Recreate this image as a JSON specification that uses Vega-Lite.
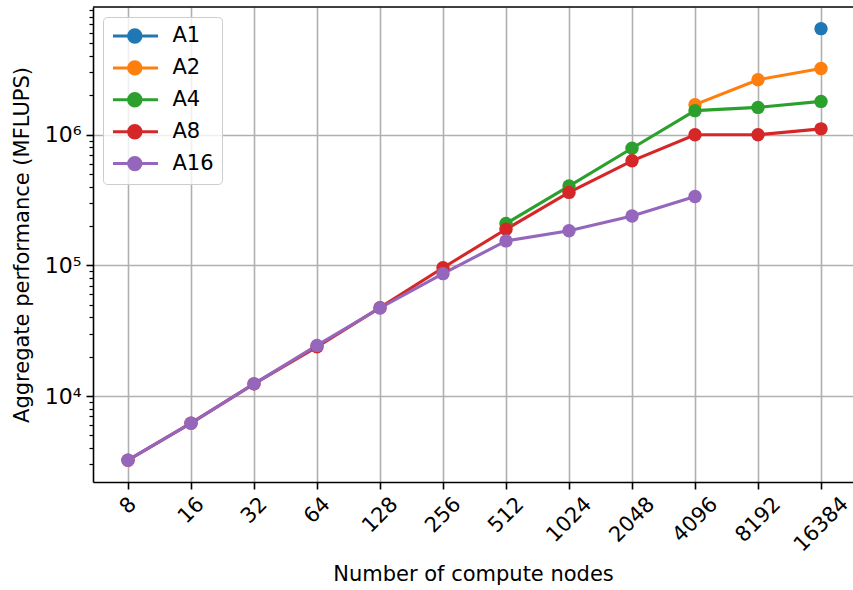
{
  "$schema": "https://vega.github.io/schema/vega-lite/v6.json",
  "autosize": "none",
  "width": 760,
  "height": 475,
  "padding": {"left": 93, "top": 7, "right": 0, "bottom": 108},
  "background": "white",
  "config": {
    "font": "DejaVu Sans",
    "view": {"stroke": null},
    "axis": {
      "labelFont": "DejaVu Sans",
      "titleFont": "DejaVu Sans",
      "labelFontSize": 21,
      "titleFontSize": 21,
      "titleFontWeight": "normal",
      "labelColor": "black",
      "titleColor": "black",
      "domainColor": "black",
      "domainWidth": 1.6,
      "tickColor": "black",
      "gridColor": "#b0b0b0",
      "gridWidth": 1.6
    },
    "legend": {
      "labelFont": "DejaVu Sans",
      "labelFontSize": 21,
      "labelColor": "black"
    }
  },
  "data": {
    "values": [
      {"nodes": 16384, "perf": 6490000, "series": "A1"},
      {"nodes": 4096, "perf": 1700000, "series": "A2"},
      {"nodes": 8192, "perf": 2640000, "series": "A2"},
      {"nodes": 16384, "perf": 3220000, "series": "A2"},
      {"nodes": 512, "perf": 209000, "series": "A4"},
      {"nodes": 1024, "perf": 405000, "series": "A4"},
      {"nodes": 2048, "perf": 789000, "series": "A4"},
      {"nodes": 4096, "perf": 1530000, "series": "A4"},
      {"nodes": 8192, "perf": 1620000, "series": "A4"},
      {"nodes": 16384, "perf": 1800000, "series": "A4"},
      {"nodes": 8, "perf": 3230, "series": "A8"},
      {"nodes": 16, "perf": 6200, "series": "A8"},
      {"nodes": 32, "perf": 12400, "series": "A8"},
      {"nodes": 64, "perf": 23800, "series": "A8"},
      {"nodes": 128, "perf": 47500, "series": "A8"},
      {"nodes": 256, "perf": 96000, "series": "A8"},
      {"nodes": 512, "perf": 189000, "series": "A8"},
      {"nodes": 1024, "perf": 362000, "series": "A8"},
      {"nodes": 2048, "perf": 632000, "series": "A8"},
      {"nodes": 4096, "perf": 1000000, "series": "A8"},
      {"nodes": 8192, "perf": 1000000, "series": "A8"},
      {"nodes": 16384, "perf": 1110000, "series": "A8"},
      {"nodes": 8, "perf": 3230, "series": "A16"},
      {"nodes": 16, "perf": 6200, "series": "A16"},
      {"nodes": 32, "perf": 12400, "series": "A16"},
      {"nodes": 64, "perf": 24400, "series": "A16"},
      {"nodes": 128, "perf": 47200, "series": "A16"},
      {"nodes": 256, "perf": 86500, "series": "A16"},
      {"nodes": 512, "perf": 154000, "series": "A16"},
      {"nodes": 1024, "perf": 184000, "series": "A16"},
      {"nodes": 2048, "perf": 239000, "series": "A16"},
      {"nodes": 4096, "perf": 337000, "series": "A16"}
    ]
  },
  "encoding": {
    "x": {
      "field": "nodes",
      "type": "quantitative",
      "scale": {"type": "log", "base": 2, "domain": [5.443, 23295], "nice": false, "zero": false},
      "axis": {
        "title": "Number of compute nodes",
        "titlePadding": 9,
        "values": [8, 16, 32, 64, 128, 256, 512, 1024, 2048, 4096, 8192, 16384],
        "format": "d",
        "labelAngle": -45,
        "labelAlign": "center",
        "labelBaseline": "middle",
        "labelPadding": {
          "condition": [
            {"test": "datum.value < 10", "value": 16.5},
            {"test": "datum.value < 100", "value": 21.2},
            {"test": "datum.value < 1000", "value": 25.9},
            {"test": "datum.value < 10000", "value": 30.6}
          ],
          "value": 35.3
        },
        "labelOverlap": false,
        "labelFlush": false,
        "tickSize": 7,
        "tickWidth": 1.6,
        "grid": true
      }
    },
    "y": {
      "field": "perf",
      "type": "quantitative",
      "scale": {"type": "log", "domain": [2198, 9506000], "nice": false, "zero": false},
      "axis": {
        "title": "Aggregate performance (MFLUPS)",
        "titlePadding": 12,
        "values": [3000, 4000, 5000, 6000, 7000, 8000, 9000, 10000, 20000, 30000, 40000, 50000, 60000, 70000, 80000, 90000, 100000, 200000, 300000, 400000, 500000, 600000, 700000, 800000, 900000, 1000000, 2000000, 3000000, 4000000, 5000000, 6000000, 7000000, 8000000, 9000000],
        "labelExpr": "datum.value == 10000 ? '10⁴' : datum.value == 100000 ? '10⁵' : datum.value == 1000000 ? '10⁶' : ''",
        "labelPadding": 5,
        "labelFontSize": 22,
        "labelOverlap": false,
        "labelFlush": false,
        "tickSize": {"condition": {"test": "indexof([10000,100000,1000000], datum.value) >= 0", "value": 7}, "value": 4},
        "tickWidth": {"condition": {"test": "indexof([10000,100000,1000000], datum.value) >= 0", "value": 1.6}, "value": 1.2},
        "gridOpacity": {"condition": {"test": "indexof([10000,100000,1000000], datum.value) >= 0", "value": 1}, "value": 0},
        "grid": true
      }
    },
    "color": {
      "field": "series",
      "type": "nominal",
      "sort": ["A1", "A2", "A4", "A8", "A16"],
      "scale": {"domain": ["A1", "A2", "A4", "A8", "A16"], "range": ["#1f77b4", "#ff7f0e", "#2ca02c", "#d62728", "#9467bd"]},
      "legend": {
        "title": null,
        "orient": "top-left",
        "offset": 10,
        "padding": 7.5,
        "fillColor": "rgba(255,255,255,0.8)",
        "strokeColor": "#cccccc",
        "cornerRadius": 4,
        "rowPadding": 6.9,
        "labelOffset": 39,
        "symbolType": "M-0.9,0L3.6,0M1.9,0A0.62,0.62 0 1,1 0.66,0A0.62,0.62 0 1,1 1.9,0",
        "symbolSize": 400,
        "symbolStrokeWidth": 3,
        "encode": {
          "symbols": {
            "update": {
              "fill": {"scale": "color", "field": "value"},
              "stroke": {"scale": "color", "field": "value"},
              "strokeWidth": {"value": 3},
              "opacity": {"value": 1},
              "fillOpacity": {"value": 1},
              "strokeOpacity": {"value": 1}
            }
          }
        }
      }
    }
  },
  "layer": [
    {
      "mark": {"type": "line", "strokeWidth": 3.1, "clip": false}
    },
    {
      "mark": {"type": "point", "filled": true, "size": 180, "opacity": 1, "shape": "circle"}
    },
    {
      "data": {"values": [{"top": 9506000}]},
      "mark": {"type": "rule", "color": "black", "strokeWidth": 1.6},
      "encoding": {
        "y": {"field": "top", "type": "quantitative"},
        "x": null,
        "color": null
      }
    }
  ]
}
